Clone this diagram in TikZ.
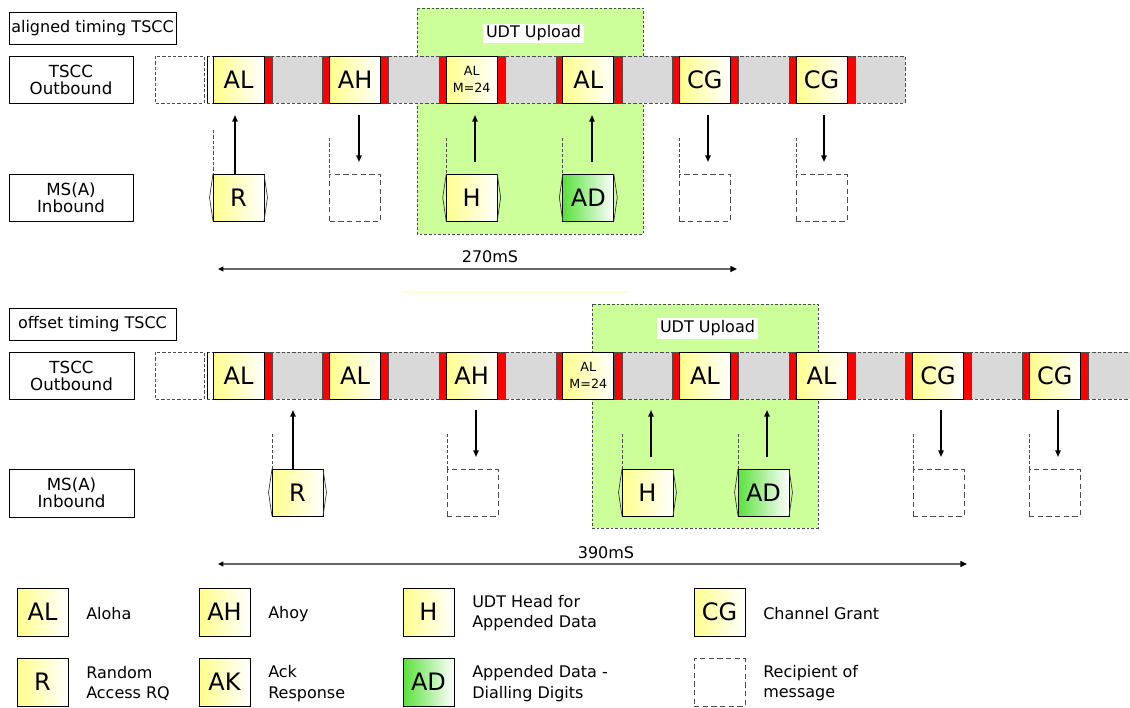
\documentclass[tikz,border=0pt]{standalone}
\usepackage{fontspec}
\setmainfont{DejaVu Sans}
\usetikzlibrary{arrows.meta}
\definecolor{yel}{RGB}{255,255,140}
\definecolor{grnmsg}{RGB}{90,225,60}
\definecolor{udt}{RGB}{204,255,153}
\definecolor{stripgray}{RGB}{217,217,217}
\definecolor{faintyel}{RGB}{255,255,210}
\tikzset{
  bigtxt/.style={font=\fontsize{18}{20}\selectfont},
  msg/.style={draw=black, line width=0.75pt, left color=yel, right color=white, minimum width=38.25pt, minimum height=35.25pt, inner sep=0pt, outer sep=0pt, bigtxt},
  msgg/.style={msg, left color=grnmsg, right color=white},
  recip/.style={draw=black!70, dash pattern=on 4pt off 2.5pt, line width=0.75pt, minimum width=38.25pt, minimum height=35.25pt, inner sep=0pt, outer sep=0pt},
  lbl/.style={draw=black, line width=0.75pt, fill=white, inner sep=0pt, outer sep=0pt, align=center, font=\fontsize{12.5}{12.75}\selectfont},
  ttl/.style={lbl, font=\fontsize{12}{13}\selectfont},
  redbar/.style={fill=red, draw=black!70, line width=0.4pt},
  chev/.style={draw=black!80, line width=0.5pt},
  guideln/.style={draw=black!70, dash pattern=on 2.5pt off 1.5pt, line width=0.6pt},
  arr/.style={-{Triangle[length=5pt,width=4pt]}, line width=1.1pt},
  spanarr/.style={{Triangle[length=4pt,width=3.5pt,color=black]}-{Triangle[length=5pt,width=4.5pt,color=black]}, draw=black!60, line width=1pt},
  udtbox/.style={fill=udt, draw=black!70, dash pattern=on 2pt off 1.5pt, line width=0.6pt},
  udtlbl/.style={fill=white, inner sep=0pt, outer sep=0pt, minimum width=75.75pt, minimum height=14.5pt, font=\fontsize{12}{13}\selectfont},
  stripedge/.style={draw=black!70, dash pattern=on 2.5pt off 1.5pt, line width=0.6pt},
  stripnode/.style={fill=stripgray, inner sep=0pt, outer sep=0pt, minimum height=35.25pt, anchor=north west},
  legtxt/.style={anchor=west, align=left, inner sep=0pt, font=\fontsize{12}{15.5}\selectfont},
  smalltxt/.style={font=\fontsize{9.5}{12.75}\selectfont, align=center},
  spantxt/.style={inner sep=0pt, font=\fontsize{12}{13}\selectfont},
}
\newcommand\redpair[3]{%
  \draw[redbar] (#1-7,#2) rectangle (#1,#3);
  \draw[redbar] (#1+51,#2) rectangle (#1+59,#3);}
\newcommand\chevrons[1]{%
  \draw[chev] (#1.north west) -- ([xshift=-2.6pt]#1.west) -- (#1.south west);
  \draw[chev] (#1.north east) -- ([xshift=2.6pt]#1.east) -- (#1.south east);}
\begin{document}
\begin{tikzpicture}[x=0.75pt,y=-0.75pt]
\useasboundingbox[fill=white] (0,0) rectangle (1130,707);

%%%%%%%%%%%%%%%% TOP : aligned timing
\path[udtbox] (417,8) rectangle (643,234);
\node[udtlbl] (tudt) at (533.5,33.5) {UDT Upload};
\node[ttl, minimum width=125.25pt, minimum height=24pt] (talign) at (92.5,28) {aligned timing TSCC};
\node[lbl, minimum width=93pt, minimum height=35.25pt] (tout) at (71,79.5) {TSCC\\Outbound};
\node[lbl, minimum width=93pt, minimum height=35.25pt] (tin) at (71,197.5) {MS(A)\\Inbound};

\draw[stripedge, fill=white] (155,56) rectangle (204,103);
\node[stripnode, minimum width=519pt] (tstrip) at (213,56) {};
\draw[stripedge] (207,56) -- (tstrip.north east) -- (tstrip.south east) -- (207,103);
\draw[line width=0.6pt] (207,56) -- (207,103);

\draw[redbar] (264,56) rectangle (272,103);
\redpair{329.6}{56}{103}
\redpair{446.2}{56}{103}
\redpair{562.8}{56}{103}
\redpair{679.4}{56}{103}
\redpair{796}{56}{103}
\node[msg, anchor=north west] (tA) at (213,56) {AL};
\node[msg, anchor=north west] (tB) at (329.6,56) {AH};
\node[msg, anchor=north west, smalltxt] (tC) at (446.2,56) {AL\\M=24};
\node[msg, anchor=north west] (tD) at (562.8,56) {AL};
\node[msg, anchor=north west] (tE) at (679.4,56) {CG};
\node[msg, anchor=north west] (tF) at (796,56) {CG};

\node[msg, anchor=north west] (tR) at (213,174) {R};
\node[recip, anchor=north west] (tX1) at (329.6,174) {};
\node[msg, anchor=north west] (tH) at (446.2,174) {H};
\node[msgg, anchor=north west] (tAD) at (562.8,174) {AD};
\node[recip, anchor=north west] (tX2) at (679.4,174) {};
\node[recip, anchor=north west] (tX3) at (796,174) {};
\chevrons{tR}\chevrons{tH}\chevrons{tAD}

\draw[guideln] (213,130) -- (tR.north west);
\draw[guideln] (329.6,138) -- (tX1.north west);
\draw[guideln] (446.2,138) -- (tH.north west);
\draw[guideln] (562.8,138) -- (tAD.north west);
\draw[guideln] (679.4,138) -- (tX2.north west);
\draw[guideln] (796,138) -- (tX3.north west);

\coordinate (ta1) at (235,0);
\coordinate (ta2) at (359,0);
\coordinate (ta3) at (475,0);
\coordinate (ta4) at (592,0);
\coordinate (ta5) at (708,0);
\coordinate (ta6) at (824,0);
\draw[arr, shorten >=9pt] (tR.north -| ta1) -- (tA.south -| ta1);
\draw[arr, shorten <=9pt, shorten >=9pt] (tB.south -| ta2) -- (tX1.north -| ta2);
\draw[arr, shorten <=9pt, shorten >=9pt] (tH.north -| ta3) -- (tC.south -| ta3);
\draw[arr, shorten <=9pt, shorten >=9pt] (tAD.north -| ta4) -- (tD.south -| ta4);
\draw[arr, shorten <=9pt, shorten >=9pt] (tE.south -| ta5) -- (tX2.north -| ta5);
\draw[arr, shorten <=9pt, shorten >=9pt] (tF.south -| ta6) -- (tX3.north -| ta6);

\coordinate (ts0) at (218,269);
\coordinate (ts1) at (737,269);
\draw[spanarr] (ts0) -- (ts1);
\node[spantxt] (t270) at (490,257) {270mS};

\draw[faintyel, line width=1pt] (403,292) -- (628,292);

%%%%%%%%%%%%%%%% BOTTOM : offset timing
\path[udtbox] (592,304) rectangle (818,528);
\node[udtlbl, minimum height=15.75pt] (budt) at (707.5,328.5) {UDT Upload};
\node[ttl, minimum width=125.25pt, minimum height=24pt] (boff) at (92.5,324) {offset timing TSCC};
\node[lbl, minimum width=93.75pt, minimum height=35.25pt] (bout) at (71.5,375.5) {TSCC\\Outbound};
\node[lbl, minimum width=93.75pt, minimum height=36pt] (bin) at (71.5,493) {MS(A)\\Inbound};

\draw[stripedge, fill=white] (155,352) rectangle (204,399);
\node[stripnode, minimum width=687.75pt] (bstrip) at (213,352) {};
\draw[stripedge] (207,352) -- (bstrip.north east);
\draw[stripedge] (207,399) -- (bstrip.south east);
\draw[line width=0.6pt] (207,352) -- (207,399);

\draw[redbar] (264,352) rectangle (272,399);
\redpair{329.6}{352}{399}
\redpair{446.2}{352}{399}
\redpair{562.8}{352}{399}
\redpair{679.4}{352}{399}
\redpair{796}{352}{399}
\redpair{912.6}{352}{399}
\redpair{1029.2}{352}{399}
\node[msg, anchor=north west] (bA) at (213,352) {AL};
\node[msg, anchor=north west] (bB) at (329.6,352) {AL};
\node[msg, anchor=north west] (bC) at (446.2,352) {AH};
\node[msg, anchor=north west, smalltxt] (bD) at (562.8,352) {AL\\M=24};
\node[msg, anchor=north west] (bE) at (679.4,352) {AL};
\node[msg, anchor=north west] (bF) at (796,352) {AL};
\node[msg, anchor=north west] (bG) at (912.6,352) {CG};
\node[msg, anchor=north west] (bK) at (1029.2,352) {CG};

\node[msg, anchor=north west] (bR) at (272,469) {R};
\node[recip, anchor=north west] (bX1) at (447,469) {};
\node[msg, anchor=north west] (bH) at (622,469) {H};
\node[msgg, anchor=north west] (bAD) at (738,469) {AD};
\node[recip, anchor=north west] (bX2) at (913,469) {};
\node[recip, anchor=north west] (bX3) at (1029,469) {};
\chevrons{bR}\chevrons{bH}\chevrons{bAD}

\draw[guideln] (272,434) -- (bR.north west);
\draw[guideln] (447,434) -- (bX1.north west);
\draw[guideln] (622,434) -- (bH.north west);
\draw[guideln] (738,434) -- (bAD.north west);
\draw[guideln] (913,434) -- (bX2.north west);
\draw[guideln] (1029,434) -- (bX3.north west);

\coordinate (ba1) at (293,0);
\coordinate (ba2) at (476,0);
\coordinate (ba3) at (651,0);
\coordinate (ba4) at (767,0);
\coordinate (ba5) at (941,0);
\coordinate (ba6) at (1058,0);
\draw[arr, shorten >=8.25pt] (bR.north -| ba1) -- (bstrip.south -| ba1);
\draw[arr, shorten <=8.25pt, shorten >=9pt] (bC.south -| ba2) -- (bX1.north -| ba2);
\draw[arr, shorten <=9pt, shorten >=8.25pt] (bH.north -| ba3) -- (bstrip.south -| ba3);
\draw[arr, shorten <=9pt, shorten >=8.25pt] (bAD.north -| ba4) -- (bstrip.south -| ba4);
\draw[arr, shorten <=8.25pt, shorten >=9pt] (bG.south -| ba5) -- (bX2.north -| ba5);
\draw[arr, shorten <=8.25pt, shorten >=9pt] (bK.south -| ba6) -- (bX3.north -| ba6);

\coordinate (bs0) at (218,564);
\coordinate (bs1) at (967,564);
\draw[spanarr] (bs0) -- (bs1);
\node[spantxt] (b390) at (606,553) {390mS};

%%%%%%%%%%%%%%%% LEGEND
\node[msg, anchor=north west, minimum height=36pt] (lAL) at (17,588) {AL};
\node[msg, anchor=north west, minimum height=36pt] (lR) at (17,658) {R};
\node[msg, anchor=north west, minimum height=36pt] (lAH) at (199,588) {AH};
\node[msg, anchor=north west, minimum height=36pt] (lAK) at (199,658) {AK};
\node[msg, anchor=north west, minimum height=36pt] (lH) at (403,588) {H};
\node[msgg, anchor=north west, minimum height=36pt] (lAD) at (403,658) {AD};
\node[msg, anchor=north west, minimum height=36pt] (lCG) at (694,588) {CG};
\node[recip, anchor=north west, minimum height=36pt] (lRec) at (694,658) {};

\node[legtxt] (tAloha) at (86,614) {Aloha};
\node[legtxt] (tRand) at (86,683.5) {Random\\Access RQ};
\node[legtxt] (tAhoy) at (268,614) {Ahoy};
\node[legtxt] (tAck) at (268,683.5) {Ack\\Response};
\node[legtxt] (tUDT) at (472,613) {UDT Head for\\Appended Data};
\node[legtxt] (tApp) at (472,683.5) {Appended Data -\\Dialling Digits};
\node[legtxt] (tCG) at (763,614) {Channel Grant};
\node[legtxt] (tRec) at (763,683) {Recipient of\\message};
\end{tikzpicture}
\end{document}
